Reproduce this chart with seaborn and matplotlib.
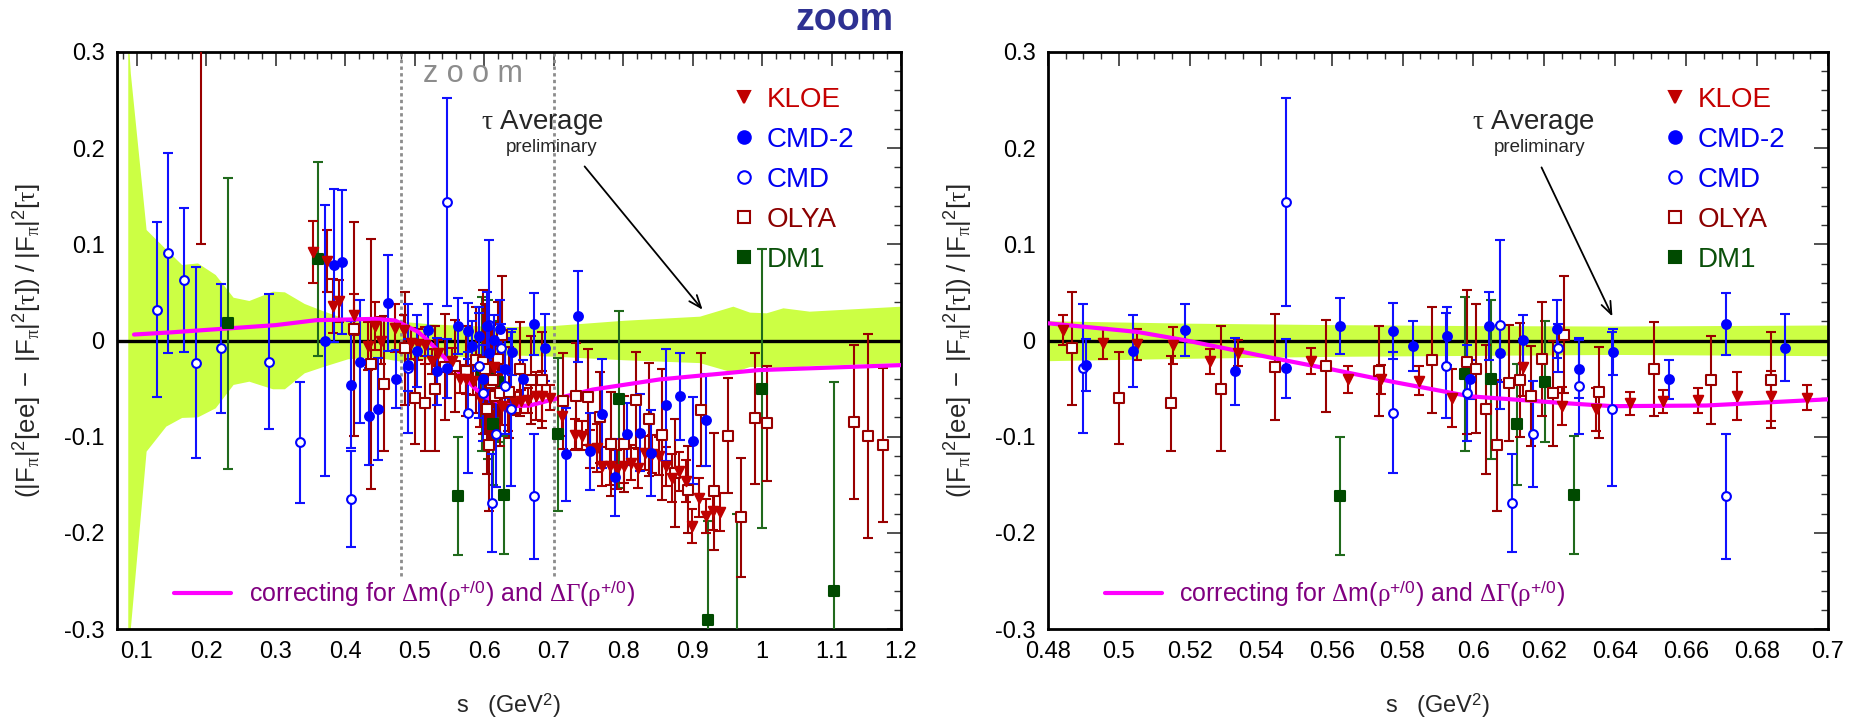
import numpy as np
import pandas as pd
import matplotlib
matplotlib.use("Agg")
import matplotlib.pyplot as plt
from matplotlib.ticker import MultipleLocator, FuncFormatter
import seaborn as sns

sns.set_style("white")
plt.rcParams.update({
    "font.family": ["Liberation Sans", "DejaVu Sans"],
    "mathtext.fontset": "custom",
    "mathtext.rm": "Liberation Serif",
    "mathtext.it": "Liberation Serif:italic",
    "mathtext.bf": "Liberation Sans:bold",
    "mathtext.sf": "Liberation Sans",
    "axes.unicode_minus": False,
})

# ---------------- data: relative difference e+e- vs tau ----------------
kloe_s = [0.354, 0.374, 0.3825, 0.391, 0.4132, 0.4327, 0.4433, 0.4512, 0.4718,
          0.4843, 0.4954, 0.505, 0.5153, 0.5256, 0.5336, 0.5543, 0.5646, 0.574,
          0.5845, 0.594, 0.6139, 0.625, 0.6347, 0.6441, 0.6536, 0.6632, 0.6743,
          0.6839, 0.6942, 0.7125, 0.7303, 0.7413, 0.7518, 0.7623, 0.7695, 0.7815,
          0.791, 0.8007, 0.8118, 0.8213, 0.831, 0.842, 0.8516, 0.8612, 0.8708,
          0.8804, 0.89, 0.8995, 0.9091, 0.9197, 0.9293, 0.9388]
kloe_d = [0.092, 0.0825, 0.036, 0.041, 0.027, -0.006, 0.015, 0.000, 0.013,
          0.011, -0.003, -0.004, -0.005, -0.0215, -0.013, -0.0215, -0.0405, -0.0405,
          -0.042, -0.060, -0.028, -0.068, -0.0717, -0.0655, -0.063, -0.062, -0.058,
          -0.058, -0.0596, -0.079, -0.098, -0.099, -0.113, -0.1116, -0.131, -0.130,
          -0.134, -0.130, -0.127, -0.133, -0.117, -0.118, -0.120, -0.131, -0.143,
          -0.136, -0.146, -0.193, -0.1635, -0.1826, -0.1774, -0.1785]
kloe_e = [0.032, 0.032, 0.028, 0.022, 0.021, 0.025, 0.025, 0.024, 0.025,
          0.016, 0.016, 0.016, 0.019, 0.013, 0.014, 0.0135, 0.014, 0.015,
          0.015, 0.030, 0.030, 0.020, 0.022, 0.012, 0.012, 0.013, 0.025,
          0.026, 0.013, 0.020, 0.016, 0.015, 0.020, 0.025, 0.020, 0.020,
          0.020, 0.018, 0.018, 0.020, 0.018, 0.020, 0.020, 0.020, 0.025,
          0.020, 0.022, 0.018, 0.020, 0.018, 0.020, 0.020]

cmd2_s = [0.3705, 0.3836, 0.396, 0.408, 0.4206, 0.4337, 0.4473, 0.4616, 0.4735,
          0.4907, 0.504, 0.5186, 0.5327, 0.5472, 0.5623, 0.5773, 0.5829, 0.5925,
          0.5989, 0.6043, 0.6075, 0.6139, 0.6235, 0.6299, 0.6394, 0.6552, 0.6712,
          0.6879, 0.718, 0.7347, 0.7518, 0.7695, 0.7878, 0.806, 0.8237, 0.8406,
          0.8611, 0.8823, 0.9005, 0.9187]
cmd2_d = [0.000, 0.078, 0.082, -0.046, -0.022, -0.079, -0.071, 0.039, -0.040,
          -0.025, -0.011, 0.011, -0.032, -0.029, 0.015, 0.0097, -0.006, 0.0045,
          -0.0405, 0.015, -0.0135, 0.001, 0.012, -0.0295, -0.012, -0.0405, 0.0173,
          -0.0076, -0.1185, 0.025, -0.115, -0.076, -0.142, -0.097, -0.096, -0.117,
          -0.067, -0.058, -0.104, -0.083]
cmd2_e = [0.141, 0.080, 0.075, 0.066, 0.064, 0.050, 0.053, 0.050, 0.030,
          0.027, 0.037, 0.027, 0.035, 0.031, 0.029, 0.029, 0.026, 0.030,
          0.020, 0.035, 0.030, 0.025, 0.030, 0.030, 0.024, 0.020, 0.032,
          0.035, 0.048, 0.047, 0.040, 0.057, 0.040, 0.032, 0.040, 0.045,
          0.058, 0.045, 0.045, 0.048]

cmd_s = [0.1293, 0.1447, 0.1686, 0.1845, 0.2215, 0.2903, 0.3353, 0.408, 0.4898,
         0.5472, 0.5773, 0.5923, 0.5981, 0.6075, 0.6109, 0.6169, 0.6238, 0.6299,
         0.6392, 0.6712]
cmd_d = [0.032, 0.091, 0.063, -0.023, -0.008, -0.022, -0.106, -0.165, -0.029,
         0.144, -0.075, -0.026, -0.055, 0.0166, -0.169, -0.097, -0.0076, -0.047,
         -0.071, -0.162]
cmd_e = [0.091, 0.104, 0.075, 0.099, 0.067, 0.070, 0.063, 0.050, 0.067,
         0.108, 0.063, 0.055, 0.050, 0.088, 0.051, 0.055, 0.025, 0.050,
         0.080, 0.065]

olya_s = [0.193, 0.412, 0.4377, 0.4559, 0.4867, 0.5001, 0.5146, 0.5289, 0.5439,
          0.5583, 0.5733, 0.5884, 0.5981, 0.6006, 0.6036, 0.6067, 0.61, 0.6132,
          0.6163, 0.6194, 0.6225, 0.6256, 0.6353, 0.651, 0.6671, 0.6839, 0.7134,
          0.7317, 0.7494, 0.7662, 0.783, 0.8012, 0.819, 0.8372, 0.8558, 0.8741,
          0.8933, 0.9125, 0.9302, 0.9508, 0.97, 0.9902, 1.0075, 1.1317, 1.1532,
          1.1738]
olya_d = [0.330, 0.012, -0.024, -0.045, -0.0083, -0.060, -0.0655, -0.050, -0.0277,
          -0.0267, -0.032, -0.020, -0.022, -0.0295, -0.0717, -0.1088, -0.044, -0.041,
          -0.058, -0.019, -0.055, 0.006, -0.054, -0.0295, -0.041, -0.041, -0.063,
          -0.058, -0.059, -0.080, -0.108, -0.108, -0.062, -0.082, -0.098, -0.1376,
          -0.155, -0.072, -0.157, -0.099, -0.184, -0.081, -0.086, -0.0845, -0.099,
          -0.109]
olya_e = [0.230, 0.111, 0.130, 0.070, 0.059, 0.048, 0.049, 0.065, 0.055,
          0.048, 0.047, 0.055, 0.075, 0.067, 0.067, 0.068, 0.060, 0.059,
          0.052, 0.059, 0.055, 0.061, 0.047, 0.049, 0.046, 0.050, 0.050,
          0.055, 0.050, 0.047, 0.054, 0.050, 0.050, 0.059, 0.068, 0.056,
          0.045, 0.059, 0.061, 0.060, 0.062, 0.068, 0.060, 0.080, 0.106,
          0.080]

dm1_s = [0.2317, 0.3609, 0.5623, 0.5975, 0.605, 0.6123, 0.6202, 0.6283, 0.7067,
         0.794, 0.922, 0.9643, 1.0003, 1.1029]
dm1_d = [0.0177, 0.085, -0.1618, -0.035, -0.0405, -0.0873, -0.043, -0.1608, -0.0977,
         -0.061, -0.291, -0.330, -0.050, -0.2606]
dm1_e = [0.151, 0.101, 0.061, 0.080, 0.083, 0.063, 0.063, 0.061, 0.080,
         0.092, 0.103, 0.150, 0.145, 0.217]

# tau-average uncertainty band
band_s = [0.087, 0.0907, 0.1134, 0.1418, 0.1646, 0.1874, 0.2129, 0.2386, 0.2613,
          0.2954, 0.3125, 0.341, 0.3694, 0.4036, 0.44, 0.48, 0.52, 0.56, 0.60,
          0.64, 0.70, 0.80, 0.91, 0.958, 0.982, 1.006, 1.03, 1.068, 1.2]
band_hi = [0.32, 0.278, 0.1154, 0.095, 0.079, 0.0807, 0.0686, 0.045, 0.0416,
           0.0513, 0.0506, 0.0385, 0.0305, 0.0218, 0.019, 0.0200, 0.0175, 0.016, 0.015,
           0.0145, 0.0156, 0.021, 0.0253, 0.0357, 0.0295, 0.0288, 0.034, 0.0305, 0.0357]
band_lo = [-0.40, -0.299, -0.115, -0.089, -0.080, -0.0794, -0.070, -0.0457, -0.0423,
           -0.0502, -0.0502, -0.0336, -0.0267, -0.019, -0.017, -0.0215, -0.019, -0.017, -0.016,
           -0.015, -0.0163, -0.020, -0.023, -0.033, -0.027, -0.027, -0.030, -0.026, -0.023]

# rho mass/width correction curve
corr_s = [0.096, 0.15, 0.2442, 0.30, 0.358, 0.4433, 0.4718, 0.4806, 0.505, 0.5186,
          0.5431, 0.56, 0.5773, 0.5989, 0.6243, 0.6392, 0.6656, 0.6993, 0.7563,
          0.8525, 0.995, 1.2]
corr_d = [0.0062, 0.0085, 0.0132, 0.016, 0.0211, 0.0225, 0.0208, 0.0177, 0.009, 0.0003,
          -0.018, -0.030, -0.043, -0.058, -0.0648, -0.0683, -0.0676, -0.0613, -0.051,
          -0.0405, -0.0308, -0.0256]

legend_names = ["KLOE", "CMD-2", "CMD", "OLYA", "DM1"]
legend_text_colors = ["#c40000", "#0000f0", "#0000f0", "#8b0000", "#0a500a"]

# ---------------- styles ----------------
BAND = "#ccff44"
MAGENTA = "#ff00ff"
styles = {
    "KLOE": dict(marker="v", face="#c00000", edge="#c00000", bar="#a80000", size=46),
    "CMD-2": dict(marker="o", face="#0000ff", edge="#0000ff", bar="#1010ff", size=40),
    "CMD": dict(marker="o", face="white", edge="#0000ff", bar="#1010ff", size=40),
    "OLYA": dict(marker="s", face="white", edge="#990000", bar="#990000", size=48),
    "DM1": dict(marker="s", face="#004a00", edge="#004a00", bar="#206a1c", size=44),
}
frames = {
    "KLOE": pd.DataFrame({"s": kloe_s, "d": kloe_d, "e": kloe_e}),
    "CMD-2": pd.DataFrame({"s": cmd2_s, "d": cmd2_d, "e": cmd2_e}),
    "CMD": pd.DataFrame({"s": cmd_s, "d": cmd_d, "e": cmd_e}),
    "OLYA": pd.DataFrame({"s": olya_s, "d": olya_d, "e": olya_e}),
    "DM1": pd.DataFrame({"s": dm1_s, "d": dm1_d, "e": dm1_e}),
}
draw_order = ["DM1", "OLYA", "KLOE", "CMD", "CMD-2"]

ylabel = (r"$\mathsf{(|F_{\mathrm{\pi}}|^{2}[ee]\ -\ |F_{\mathrm{\pi}}|^{2}[\mathrm{\tau}])"
          r"\ /\ |F_{\mathrm{\pi}}|^{2}[\mathrm{\tau}]}$")
corr_label = (r"correcting for $\mathrm{\Delta}$m($\mathrm{\rho}^{\mathsf{+/0}}$) and "
              r"$\mathrm{\Delta\Gamma}$($\mathrm{\rho}^{\mathsf{+/0}}$)")

fmt = FuncFormatter(lambda v, p: "%g" % (round(v, 4) + 0.0))

fig = plt.figure(figsize=(18.51, 7.22), dpi=100)
W, H = 1851.0, 722.0
ax1 = fig.add_axes([117 / W, 93 / H, 784 / W, 577 / H])
ax2 = fig.add_axes([1048 / W, 93 / H, 780 / W, 577 / H])


def panel(ax, xlim, xmaj, xmin, leg_x, txt_x, avg_txt, avg_arrow):
    ax.set_xlim(*xlim)
    ax.set_ylim(-0.3, 0.3)
    ax.fill_between(band_s, band_lo, band_hi, color=BAND, lw=0, zorder=1)
    ax.axhline(0, color="black", lw=2.4, zorder=2)
    for name in draw_order:
        st = styles[name]
        df = frames[name]
        ax.errorbar(df["s"], df["d"], yerr=df["e"], fmt="none", ecolor=st["bar"],
                    elinewidth=1.5, capsize=3.3, capthick=1.5, zorder=3)
    sns.lineplot(x=corr_s, y=corr_d, color=MAGENTA, lw=3.0, ax=ax,
                 estimator=None, errorbar=None, zorder=4)
    for name in draw_order:
        st = styles[name]
        sns.scatterplot(data=frames[name], x="s", y="d", ax=ax, marker=st["marker"],
                        s=st["size"], color=st["face"], edgecolor=st["edge"],
                        linewidth=1.5, legend=False, zorder=5)

    # frame and ticks
    for sp in ax.spines.values():
        sp.set_linewidth(2.0)
        sp.set_color("black")
    ax.xaxis.set_major_locator(MultipleLocator(xmaj))
    ax.xaxis.set_minor_locator(MultipleLocator(xmin))
    ax.yaxis.set_major_locator(MultipleLocator(0.1))
    ax.yaxis.set_minor_locator(MultipleLocator(0.02))
    ax.xaxis.set_major_formatter(fmt)
    ax.yaxis.set_major_formatter(fmt)
    ax.tick_params(which="both", direction="in", top=True, right=True,
                   color="#333333", labelsize=17, labelcolor="black")
    ax.tick_params(which="major", length=10, width=1.2)
    ax.tick_params(which="minor", length=5, width=1.0)
    ax.tick_params(axis="x", pad=9)
    ax.tick_params(axis="y", pad=9)

    ax.set_xlabel("s   (GeV$^{\\mathsf{2}}$)", fontsize=17)
    ax.set_ylabel(ylabel, fontsize=18.5)
    ax.xaxis.set_label_coords(0.5, -0.107)
    ax.yaxis.set_label_coords(-0.093, 0.5)

    # legend of experiments
    ys = [0.922, 0.853, 0.783, 0.714, 0.645]
    for name, c, yy in zip(legend_names, legend_text_colors, ys):
        st = styles[name]
        ax.plot([leg_x], [yy], transform=ax.transAxes, marker=st["marker"],
                ms=9, mfc=st["face"], mec=st["edge"], mew=1.5, ls="none",
                clip_on=False, zorder=6)
        ax.text(txt_x, yy - 0.017, name, transform=ax.transAxes, color=c,
                fontsize=20, ha="left", va="baseline", zorder=6)

    # correction curve legend
    ax.plot([0.073, 0.146], [0.0624, 0.0624], transform=ax.transAxes,
            color=MAGENTA, lw=3.0, zorder=6)
    ax.text(0.168, 0.047, corr_label, transform=ax.transAxes, color="#800080",
            fontsize=18, ha="left", va="baseline", zorder=6)

    # tau average annotation
    ax.text(avg_txt[0], 0.2195, r"$\mathrm{\tau}$ Average", fontsize=20, ha="center",
            va="baseline", zorder=6)
    ax.text(avg_txt[1], 0.1955, "preliminary", fontsize=13.5, ha="center",
            va="baseline", zorder=6)
    ax.annotate("", xy=avg_arrow[1], xytext=avg_arrow[0],
                arrowprops=dict(arrowstyle="->,head_length=0.9,head_width=0.35",
                                color="black", lw=1.3, shrinkA=0, shrinkB=0),
                zorder=6)


panel(ax1, (0.0715, 1.2), 0.1, 0.02, 0.80, 0.829,
      (0.684, 0.697), ((0.7446, 0.181), (0.9144, 0.032)))
panel(ax2, (0.48, 0.70), 0.02, 0.005, 0.804, 0.833,
      (0.6169, 0.6186), ((0.6192, 0.180), (0.6392, 0.025)))

# zoom window markers on the full-range panel
ax1.vlines([0.48, 0.70], -0.245, 0.3, colors="#8c8c8c", linestyles=(0, (1.2, 1.2)),
           lw=2.0, zorder=2)
ax1.text(0.454, 0.948, "z o o m", transform=ax1.transAxes, color="#8c8c8c",
         fontsize=22, ha="center", va="baseline", zorder=6)

fig.text(0.4565, 0.972, "zoom", color="#2e3192", fontsize=27, fontweight="bold",
         ha="center", va="center")

fig.savefig("out.png", dpi=100)
